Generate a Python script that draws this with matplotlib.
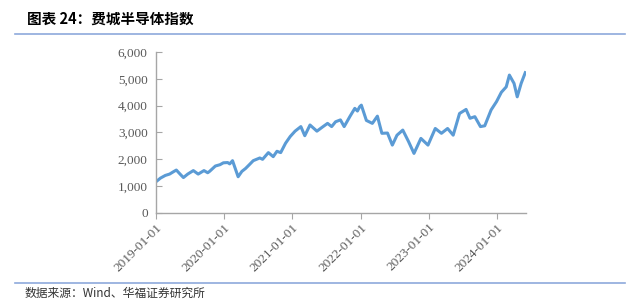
import pandas as pd
import matplotlib.pyplot as plt
import matplotlib.dates as mdates
from matplotlib.ticker import FuncFormatter
from matplotlib.lines import Line2D

plt.rcParams['font.family'] = ['Noto Sans CJK SC', 'DejaVu Sans']

# values (approximate)
dates = ['2019-01-02', '2019-01-25', '2019-02-20', '2019-03-15', '2019-04-05', '2019-04-20',
         '2019-05-10', '2019-05-28', '2019-06-20', '2019-07-20', '2019-08-15', '2019-09-15',
         '2019-10-05', '2019-10-15', '2019-11-15', '2019-12-10', '2019-12-28', '2020-01-20',
         '2020-01-31', '2020-02-15', '2020-03-16', '2020-04-05', '2020-04-25', '2020-05-15',
         '2020-06-05', '2020-07-10', '2020-07-25', '2020-08-25', '2020-09-20', '2020-10-10',
         '2020-10-30', '2020-11-25', '2020-12-20', '2021-01-15', '2021-02-15', '2021-03-08',
         '2021-04-05', '2021-05-12', '2021-06-10', '2021-07-08', '2021-07-30', '2021-08-20',
         '2021-09-15', '2021-10-05', '2021-11-05', '2021-12-01', '2021-12-15', '2021-12-27',
         '2022-01-05', '2022-02-01', '2022-03-05', '2022-04-01', '2022-04-25', '2022-05-25',
         '2022-06-20', '2022-07-15', '2022-08-15', '2022-09-15', '2022-10-14', '2022-11-20',
         '2022-12-28', '2023-02-05', '2023-03-10', '2023-04-12', '2023-05-12', '2023-06-15',
         '2023-07-20', '2023-08-10', '2023-09-05', '2023-10-05', '2023-10-28', '2023-12-01',
         '2023-12-30', '2024-01-25', '2024-02-20', '2024-03-08', '2024-04-02', '2024-04-19',
         '2024-05-10', '2024-06-01']
values = [1170, 1300, 1400, 1450, 1540, 1600,
          1450, 1320, 1450, 1580, 1450, 1580,
          1500, 1550, 1750, 1800, 1870, 1880,
          1830, 1950, 1350, 1550, 1660, 1800,
          1950, 2050, 2000, 2250, 2100, 2300,
          2250, 2600, 2850, 3050, 3220, 2880,
          3280, 3050, 3200, 3340, 3220, 3400,
          3470, 3220, 3600, 3900, 3800, 3960,
          4020, 3450, 3340, 3610, 2970, 2980,
          2530, 2900, 3090, 2660, 2220, 2780,
          2530, 3150, 2970, 3150, 2900, 3710,
          3860, 3530, 3590, 3220, 3250, 3840,
          4150, 4500, 4700, 5140, 4830, 4330,
          4830, 5230]
y_ticks = [0, 1000, 2000, 3000, 4000, 5000, 6000]
x_ticks = ['2019-01-01', '2020-01-01', '2021-01-01', '2022-01-01', '2023-01-01', '2024-01-01']

df = pd.DataFrame({'date': pd.to_datetime(dates), 'value': values})

fig = plt.figure(figsize=(6.31, 3.06), dpi=100)
ax = fig.add_axes([0.2472, 0.304, 0.5864, 0.526])

ax.plot(df['date'], df['value'], color='#5B9BD5', linewidth=2.2)

ax.set_ylim(0, 6000)
ax.set_yticks(y_ticks)
ax.yaxis.set_major_formatter(FuncFormatter(lambda v, p: f'{int(v):,}'))
ax.set_xlim(pd.Timestamp('2019-01-01'), pd.Timestamp('2024-06-05'))
ax.set_xticks(pd.to_datetime(x_ticks))
ax.xaxis.set_major_formatter(mdates.DateFormatter('%Y-%m-%d'))

for s in ['top', 'right']:
    ax.spines[s].set_visible(False)
for s in ['left', 'bottom']:
    ax.spines[s].set_color('#A6A6A6')
    ax.spines[s].set_linewidth(1.0)

ax.tick_params(axis='both', labelfontfamily='Liberation Serif', labelsize=9.5,
               labelcolor='#595959', color='#A6A6A6')
ax.tick_params(axis='y', direction='in', length=4, pad=6)
ax.tick_params(axis='x', direction='out', length=4, pad=2)
for lab in ax.get_xticklabels():
    lab.set_rotation(45)
    lab.set_ha('right')
    lab.set_rotation_mode('anchor')

# title, header line, footer
fig.text(27 / 631, 1 - 19 / 306, '图表 24：费城半导体指数', fontsize=10.5, fontweight='bold',
         va='center', ha='left', color='black')
fig.add_artist(Line2D([15 / 631, 625 / 631], [1 - 34 / 306, 1 - 34 / 306],
                      color='#8EA9DB', linewidth=1.2, transform=fig.transFigure))
fig.add_artist(Line2D([15 / 631, 625 / 631], [1 - 283 / 306, 1 - 283 / 306],
                      color='#8EA9DB', linewidth=1.2, transform=fig.transFigure))
fig.text(25 / 631, 1 - 293 / 306, '数据来源：Wind、华福证券研究所', fontsize=8.5,
         va='center', ha='left', color='#333333')

fig.savefig('out.png', dpi=100)
